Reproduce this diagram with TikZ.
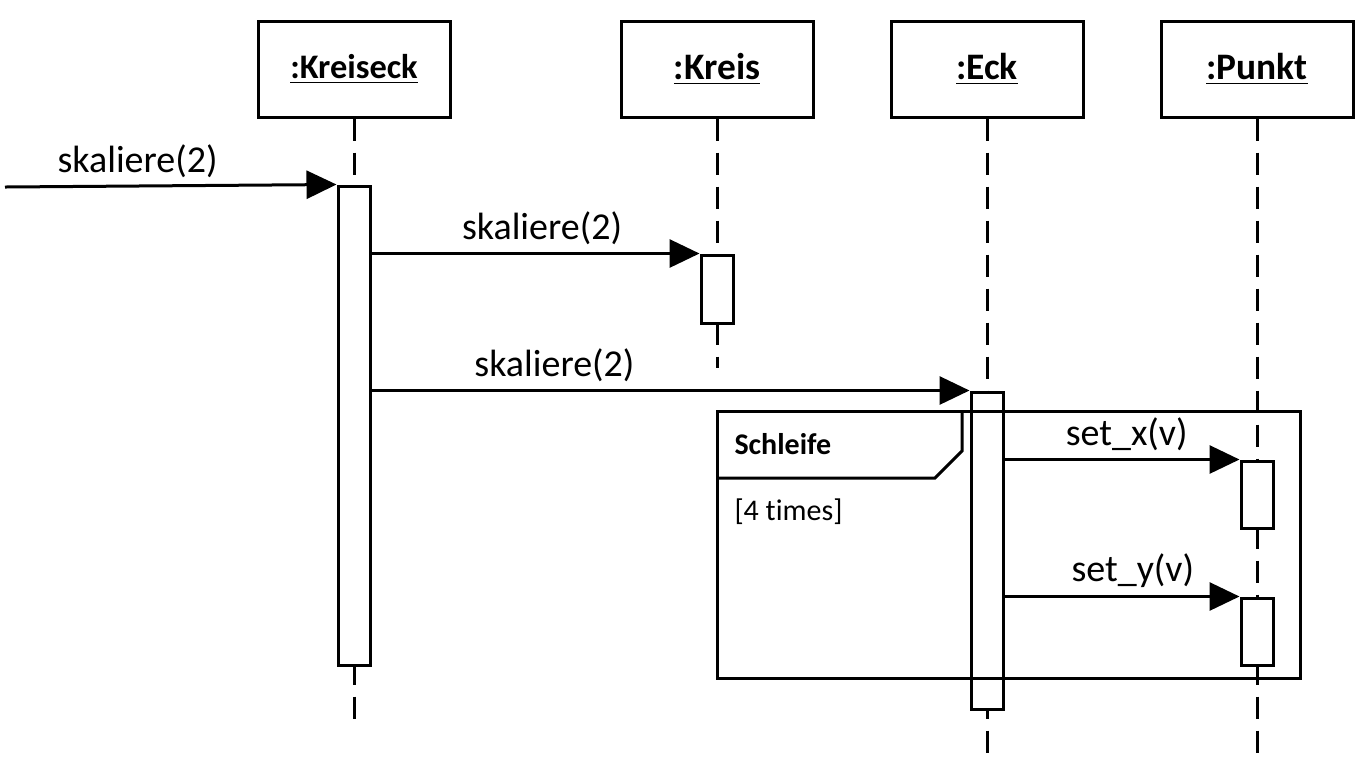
\documentclass[tikz,border=0pt]{standalone}
\usepackage{fontspec}
\setmainfont[Ligatures=NoCommon]{Carlito}
\usepackage{tikz}
\usetikzlibrary{positioning,arrows.meta}

\begin{document}
\begin{tikzpicture}[x=0.5pt,y=-0.5pt,line width=1.5pt,
obj/.style={draw,rectangle,minimum width=96pt,minimum height=48pt,font=\fontsize{18.7}{22}\selectfont\bfseries},
act/.style={draw,fill=white,rectangle,minimum width=16pt,inner sep=0pt},
life/.style={dash pattern=on 11pt off 6pt},
msg/.style={-{Triangle[length=15pt,width=14pt]}},
lbl/.style={font=\fontsize{19}{22}\selectfont,inner sep=0pt,above=3.5pt},
note/.style={font=\fontsize{15}{18}\selectfont,inner sep=0pt,anchor=west}]
\useasboundingbox (0,0) rectangle (1371,768);

% objects
\node (kreiseck) [obj,font=\fontsize{17.2}{20}\selectfont\bfseries] at (354,69) {\underline{:Kreiseck}};
\node (kreis) [obj] at (717,69) {\underline{:Kreis}};
\node (eck) [obj] at (987,69) {\underline{:Eck}};
\node (punkt) [obj] at (1257,69) {\underline{:Punkt}};

% lifelines
\coordinate (kreiseckend) at (354,720);
\coordinate (kreisend) at (717,368);
\coordinate (eckend) at (987,755);
\coordinate (punktend) at (1257,755);
\draw[life] (kreiseck.south) -- (kreiseckend);
\draw[life] (kreis.south) -- (kreisend);
\draw[life] (eck.south) -- (eckend);
\draw[life] (punkt.south) -- (punktend);

% activations
\node (actkreiseck) [act,minimum height=239.5pt] at (354,425.5) {};
\node (actkreis) [act,minimum height=34pt] at (717,289) {};
\node (acteck) [act,minimum height=158.5pt] at (987,550.5) {};
\node (actpunkta) [act,minimum height=33.5pt] at (1257,494.5) {};
\node (actpunktb) [act,minimum height=33.5pt] at (1257,631.5) {};

% messages
\coordinate (start) at (5,187);
\draw[msg] (start) -- (actkreiseck.north west) node (msga) [lbl,pos=0.4] {skaliere(2)};
\draw[msg] (actkreiseck.east |- actkreis.north) -- (actkreis.north west) node (msgb) [lbl,pos=0.52] {skaliere(2)};
\draw[msg] (actkreiseck.east |- acteck.north) -- (acteck.north west) node (msgc) [lbl,pos=0.306] {skaliere(2)};
\draw[msg] (acteck.east |- actpunkta.north) -- (actpunkta.north west) node (msgd) [lbl,pos=0.52] {set\_x(v)};
\draw[msg] (acteck.east |- actpunktb.north) -- (actpunktb.north west) node (msge) [lbl,pos=0.546] {set\_y(v)};

% loop frame
\draw (717,411) rectangle (1300,678);
\draw (717,478) -- (935,478) -- (962,451) -- (962,411);
\node (looptitle) [note,font=\fontsize{15}{18}\selectfont\bfseries] at (733,444) {Schleife};
\node (loopguard) [note] at (733,512) {[4 times]};
\end{tikzpicture}
\end{document}
